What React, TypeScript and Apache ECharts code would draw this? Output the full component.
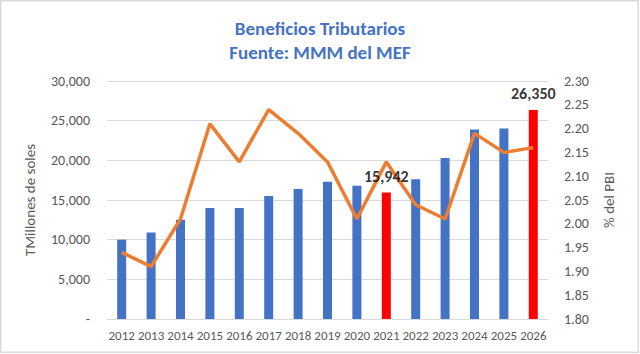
import React, { useEffect, useRef } from "react";
import * as echarts from "echarts";

const years = ["2012","2013","2014","2015","2016","2017","2018","2019","2020","2021","2022","2023","2024","2025","2026"];
const beneficios = [10000, 10900, 12500, 14000, 14000, 15500, 16400, 17300, 16800, 15942, 17600, 20300, 23900, 24000, 26350];
const pctPbi = [1.94, 1.91, 2.01, 2.21, 2.13, 2.24, 2.19, 2.13, 2.01, 2.13, 2.04, 2.01, 2.19, 2.15, 2.16];
const highlightYears = ["2021", "2026"];
const leftTicks = { min: 0, max: 30000, interval: 5000 };
const rightTicks = { min: 1.8, max: 2.3, interval: 0.05 };

const FONT = "Carlito, Calibri, Lato, sans-serif";

export default function App() {
  const ref = useRef<HTMLDivElement>(null);
  useEffect(() => {
    document.body.style.margin = "0";
    const chart = echarts.init(ref.current!, null, { renderer: "svg" });
    const barData = beneficios.map((v, i) =>
      highlightYears.includes(years[i]) ? { value: v, itemStyle: { color: "#FF0000" } } : { value: v }
    );
    const labelData = beneficios.map((v, i) => (highlightYears.includes(years[i]) ? v : "-"));
    chart.setOption({
      animation: false,
      backgroundColor: "#FFFFFF",
      textStyle: { fontFamily: FONT },
      title: {
        text: "Beneficios Tributarios\nFuente: MMM del MEF",
        left: "center",
        top: 11,
        textStyle: {
          color: "#4472C4",
          fontFamily: FONT,
          fontWeight: "bold",
          fontSize: 19,
          lineHeight: 24,
        },
      },
      graphic: [
        {
          type: "rect",
          shape: { x: 0.75, y: 0.75, width: 637.5, height: 351.5 },
          style: { fill: "none", stroke: "#D9D9D9", lineWidth: 1.5 },
          silent: true,
        },
      ],
      grid: { left: 107, right: 92, top: 81, bottom: 35 },
      xAxis: {
        type: "category",
        data: years,
        axisLine: { lineStyle: { color: "#D9D9D9" } },
        axisTick: { show: false },
        axisLabel: { color: "#595959", fontSize: 13, margin: 10, fontFamily: FONT, interval: 0 },
      },
      yAxis: [
        {
          type: "value",
          min: leftTicks.min,
          max: leftTicks.max,
          interval: leftTicks.interval,
          name: "TMillones de soles",
          nameLocation: "middle",
          nameRotate: 90,
          nameGap: 70,
          nameTextStyle: { color: "#595959", fontSize: 15, fontFamily: FONT },
          axisLine: { show: false },
          axisTick: { show: false },
          splitLine: { lineStyle: { color: "#D9D9D9" } },
          axisLabel: {
            color: "#595959",
            fontSize: 14,
            margin: 17,
            fontFamily: FONT,
            formatter: (v: number) => (v === 0 ? "-" : v.toLocaleString("en-US")),
          },
        },
        {
          type: "value",
          min: rightTicks.min,
          max: rightTicks.max,
          interval: rightTicks.interval,
          name: "% del PBI",
          nameLocation: "middle",
          nameRotate: 90,
          nameGap: 53,
          nameTextStyle: { color: "#595959", fontSize: 15, fontFamily: FONT },
          axisLine: { show: false },
          axisTick: { show: false },
          splitLine: { show: false },
          axisLabel: {
            color: "#595959",
            fontSize: 14,
            margin: 16,
            fontFamily: FONT,
            formatter: (v: number) => v.toFixed(2),
          },
        },
      ],
      series: [
        {
          type: "bar",
          data: barData,
          barWidth: 9,
          itemStyle: { color: "#4472C4" },
          yAxisIndex: 0,
          z: 2,
        },
        {
          type: "line",
          data: pctPbi,
          yAxisIndex: 1,
          symbol: "none",
          lineStyle: { color: "#ED7D31", width: 3.5 },
          z: 3,
        },
        {
          type: "scatter",
          data: labelData,
          yAxisIndex: 0,
          symbolSize: 0,
          silent: true,
          z: 5,
          label: {
            show: true,
            position: "top",
            distance: 8,
            formatter: (p: any) => Number(p.value).toLocaleString("en-US"),
            fontFamily: FONT,
            fontWeight: "bold",
            fontSize: 16,
            color: "#000000",
          },
        },
      ],
    });
    return () => chart.dispose();
  }, []);
  return <div ref={ref} style={{ width: 640, height: 354 }} />;
}
